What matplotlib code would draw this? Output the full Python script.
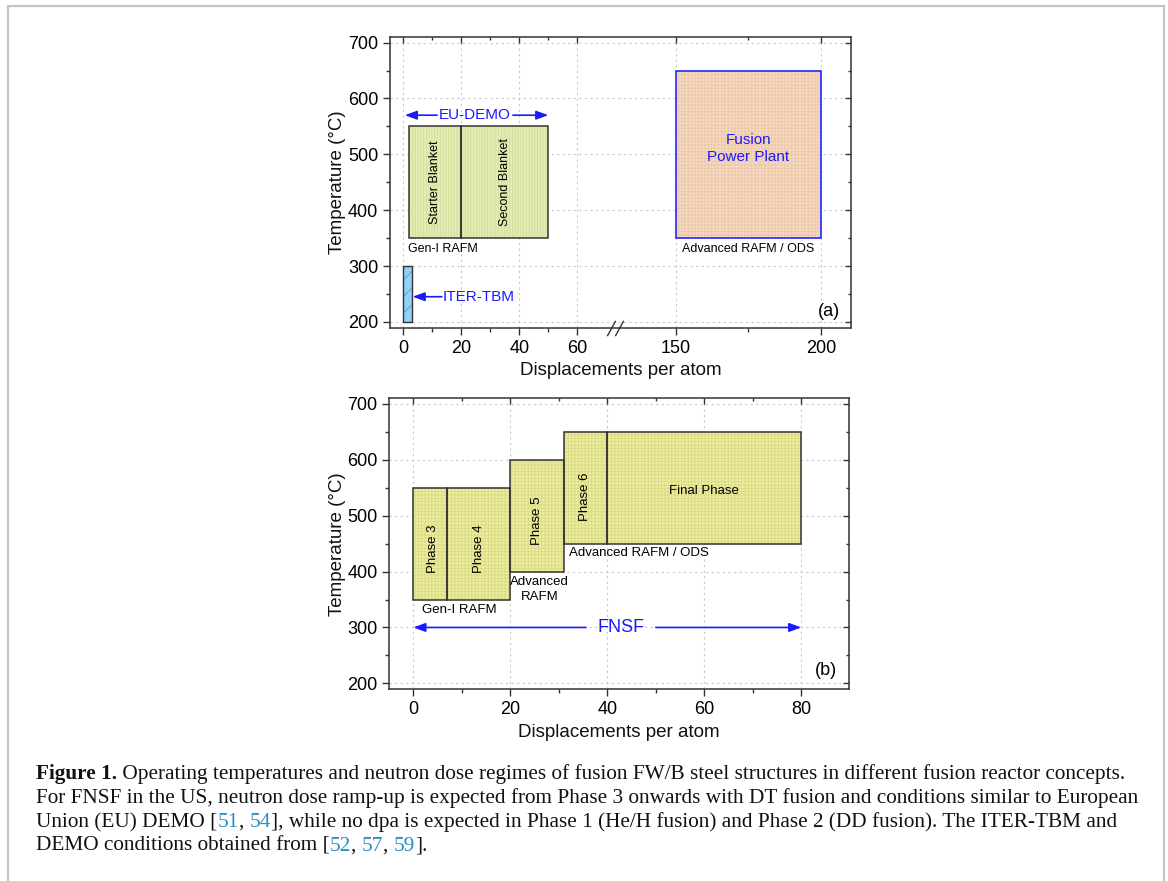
import numpy as np
import matplotlib
matplotlib.use('Agg')
import matplotlib.pyplot as plt
from matplotlib.path import Path
from matplotlib.patches import Rectangle
from matplotlib.transforms import offset_copy, IdentityTransform

plt.rcParams['font.family'] = ['Liberation Sans', 'DejaVu Sans']
plt.rcParams['hatch.linewidth'] = 0.6

# ---- panel (a): ITER-TBM, EU-DEMO and fusion power plant windows ----
iter_tbm_dpa = [0, 3]
iter_tbm_temp = [200, 300]
demo_labels = ['Starter Blanket', 'Second Blanket']
demo_dpa_edges = [2, 20, 50]
demo_temp = [350, 550]
fpp_dpa = [150, 200]
fpp_temp = [350, 650]
eu_demo_span = [0.5, 50]
eu_demo_level = 570

# ---- panel (b): FNSF phases ----
phase_labels = ['Phase 3', 'Phase 4', 'Phase 5', 'Phase 6', 'Final Phase']
phase_dpa_start = [0, 7, 20, 31, 40]
phase_dpa_end = [7, 20, 31, 40, 80]
phase_temp_low = [350, 350, 400, 450, 450]
phase_temp_high = [550, 550, 600, 650, 650]
fnsf_span = [0, 80]
fnsf_level = 300

temp_major = list(range(200, 701, 100))
temp_minor = list(range(250, 701, 100))

BLUE = '#1a1aff'
DARK = '#333333'

# broken dpa axis for panel (a): 73..129 dpa is cut out
BRK_LO, BRK_HI = 73, 129


def fwd(x):
    x = np.asarray(x, dtype=float)
    return np.where(x <= BRK_LO, x, np.where(x >= BRK_HI, x - (BRK_HI - BRK_LO), BRK_LO))


def inv(c):
    c = np.asarray(c, dtype=float)
    return np.where(c <= BRK_LO, c, c + (BRK_HI - BRK_LO))


def block(ax, x0, x1, y0, y1, face, hatch_col, hatch, edge, lw=1.1):
    ax.bar(x0, y1 - y0, width=x1 - x0, bottom=y0, align='edge', color=face,
           edgecolor=hatch_col, hatch=hatch, linewidth=0, zorder=2)
    ax.bar(x0, y1 - y0, width=x1 - x0, bottom=y0, align='edge', fill=False,
           edgecolor=edge, linewidth=lw, zorder=3)


def arrow(ax, tip, tail, y):
    ax.annotate('', xy=(tip, y), xytext=(tail, y), zorder=4,
                arrowprops=dict(arrowstyle='-|>,head_length=0.6,head_width=0.22',
                                color=BLUE, lw=1.2, mutation_scale=12,
                                shrinkA=0, shrinkB=0))


def style(fig, ax, xmajor, xminor):
    ax.set_xticks(xmajor)
    ax.set_xticks(xminor, minor=True)
    ax.set_yticks(temp_major)
    ax.set_yticks(temp_minor, minor=True)
    ax.tick_params(which='both', direction='out', top=False, right=False,
                   color=DARK, width=1.0, labelsize=13, labelcolor='black')
    ax.tick_params(which='major', length=5)
    ax.tick_params(which='minor', length=3)
    ax.grid(True, which='major', ls=(0, (2, 3)), color='#c8c8c8', lw=0.8)
    ax.set_axisbelow(True)
    for s in ax.spines.values():
        s.set_color(DARK)
        s.set_linewidth(1.1)
    ax.set_ylabel('Temperature (°C)', fontsize=13.5, color='#111111', labelpad=1)
    ax.set_xlabel('Displacements per atom', fontsize=13.5, color='#111111')
    # inward ticks on the top and right edges
    over = fig.add_axes(ax.get_position(), sharex=ax, sharey=ax, facecolor='none')
    over.tick_params(which='both', direction='in', top=True, right=True,
                     bottom=False, left=False, labelbottom=False, labelleft=False,
                     color=DARK, width=1.0)
    over.tick_params(which='major', length=4)
    over.tick_params(which='minor', length=2.5)
    for s in over.spines.values():
        s.set_visible(False)
    return over


fig = plt.figure(figsize=(11.68, 8.81), dpi=100)

# ---------------- (a) ----------------
ax1 = fig.add_axes([390 / 1168, 1 - 328 / 881, 461 / 1168, 291 / 881])
ax1.set_xscale('function', functions=(fwd, inv))
ax1.set_xlim(-4.6, 210.4)
ax1.set_ylim(189, 710)

block(ax1, iter_tbm_dpa[0], iter_tbm_dpa[1], iter_tbm_temp[0], iter_tbm_temp[1],
      '#8fd3f7', '#5f9fbf', '//', DARK, lw=1.0)
for lab, x0, x1 in zip(demo_labels, demo_dpa_edges[:-1], demo_dpa_edges[1:]):
    block(ax1, x0, x1, demo_temp[0], demo_temp[1], '#e4ecb2', '#d2dc9c', '||||||', DARK)
    ax1.text((x0 + x1) / 2, np.mean(demo_temp), lab, rotation=90, ha='center',
             va='center', fontsize=9)
block(ax1, fpp_dpa[0], fpp_dpa[1], fpp_temp[0], fpp_temp[1],
      '#f6d9bf', '#ebc8aa', '+++++', '#3535ff', lw=1.3)

ax1.text(1.5, 330, 'Gen-I RAFM', ha='left', va='center', fontsize=9)
ax1.text(175, 330, 'Advanced RAFM / ODS', ha='center', va='center', fontsize=9)
ax1.text(175, 511, 'Fusion\nPower Plant', ha='center', va='center',
         fontsize=11, color=BLUE, linespacing=1.25)

ax1.text(24.7, eu_demo_level, 'EU-DEMO', ha='center', va='center', fontsize=11, color=BLUE)
arrow(ax1, eu_demo_span[0], 11.6, eu_demo_level)
arrow(ax1, eu_demo_span[1], 37.8, eu_demo_level)

arrow(ax1, iter_tbm_dpa[1] + 0.2, 13.3, 245)
ax1.text(13.6, 245, 'ITER-TBM', ha='left', va='center', fontsize=11, color=BLUE)

ax1.text(0.976, 0.055, '(a)', transform=ax1.transAxes, ha='right', va='center', fontsize=13)

# axis break marks
brk = Path([(-0.55, -1.0), (0.55, 1.0)], [Path.MOVETO, Path.LINETO])
for off in (-2.6, 2.6):
    tr = offset_copy(ax1.get_xaxis_transform(), fig=fig, x=off, y=0, units='points')
    ax1.plot([BRK_LO], [0], marker=brk, ms=11, mec=DARK, mew=1.0, mfc='none',
             transform=tr, clip_on=False, zorder=5)

style(fig, ax1, [0, 20, 40, 60, 150, 200], [10, 30, 50, 175])

# ---------------- (b) ----------------
ax2 = fig.add_axes([389.3 / 1168, 1 - 689.3 / 881, 460 / 1168, 291 / 881])
ax2.set_xlim(-4.95, 89.9)
ax2.set_ylim(189.3, 710.2)

for x0, x1, y0, y1 in zip(phase_dpa_start, phase_dpa_end, phase_temp_low, phase_temp_high):
    block(ax2, x0, x1, y0, y1, '#eded9e', '#d9d986', '+++++', DARK)

phase_text_y = [440, 440, 491, 534, 545]
for i, (lab, x0, x1) in enumerate(zip(phase_labels, phase_dpa_start, phase_dpa_end)):
    rot = 0 if lab == 'Final Phase' else 90
    ax2.text((x0 + x1) / 2 + (0.5 if i == 0 else 0), phase_text_y[i], lab,
             rotation=rot, ha='center', va='center', fontsize=9.5)

ax2.text(9.5, 332, 'Gen-I RAFM', ha='center', va='center', fontsize=9.5)
ax2.text(26, 368, 'Advanced\nRAFM', ha='center', va='center', fontsize=9.5, linespacing=1.4)
ax2.text(32.2, 433, 'Advanced RAFM / ODS', ha='left', va='center', fontsize=9.5)

ax2.text(42.8, fnsf_level, 'FNSF', ha='center', va='center', fontsize=13, color=BLUE)
arrow(ax2, fnsf_span[0], 35.6, fnsf_level)
arrow(ax2, fnsf_span[1], 50.0, fnsf_level)

ax2.text(0.973, 0.066, '(b)', transform=ax2.transAxes, ha='right', va='center', fontsize=13)

style(fig, ax2, [0, 20, 40, 60, 80], [10, 30, 50, 70])

# ---------------- caption ----------------
REF = '#2b8cc4'
INK = '#111111'
cap_lines = [
    [('Figure 1.', INK, 'bold'),
     (' Operating temperatures and neutron dose regimes of fusion FW/B steel structures in different fusion reactor concepts.', INK, 'normal')],
    [('For FNSF in the US, neutron dose ramp-up is expected from Phase 3 onwards with DT fusion and conditions similar to European', INK, 'normal')],
    [('Union (EU) DEMO [', INK, 'normal'), ('51', REF, 'normal'), (', ', INK, 'normal'),
     ('54', REF, 'normal'),
     ('], while no dpa is expected in Phase 1 (He/H fusion) and Phase 2 (DD fusion). The ITER-TBM and', INK, 'normal')],
    [('DEMO conditions obtained from [', INK, 'normal'), ('52', REF, 'normal'), (', ', INK, 'normal'),
     ('57', REF, 'normal'), (', ', INK, 'normal'), ('59', REF, 'normal'), ('].', INK, 'normal')],
]

renderer = fig.canvas.get_renderer()


def advance(s, size, weight):
    kw = dict(fontsize=size, fontweight=weight, family='Liberation Serif',
              transform=IdentityTransform())
    t = fig.text(0, 0, s + 'M', **kw)
    w1 = t.get_window_extent(renderer).width
    t.remove()
    t = fig.text(0, 0, 'M', **kw)
    w2 = t.get_window_extent(renderer).width
    t.remove()
    return w1 - w2


base = 13.0
cap_size = base * 1094 / advance(cap_lines[1][0][0], base, 'normal')

for row, parts in enumerate(cap_lines):
    x = 36
    y = 881 - (779 + 24 * row)
    for s, col, wt in parts:
        fig.text(x, y, s, color=col, fontweight=wt, fontsize=cap_size,
                 family='Liberation Serif', va='baseline', transform=IdentityTransform())
        x += advance(s, cap_size, wt)

# light page border
fig.add_artist(Rectangle((8 / 1168, -0.05), 1156 / 1168, 1 - 6 / 881 + 0.05,
                         transform=fig.transFigure, fill=False,
                         edgecolor='#c6c6c6', lw=1.6))

fig.savefig('out.png', dpi=100)
